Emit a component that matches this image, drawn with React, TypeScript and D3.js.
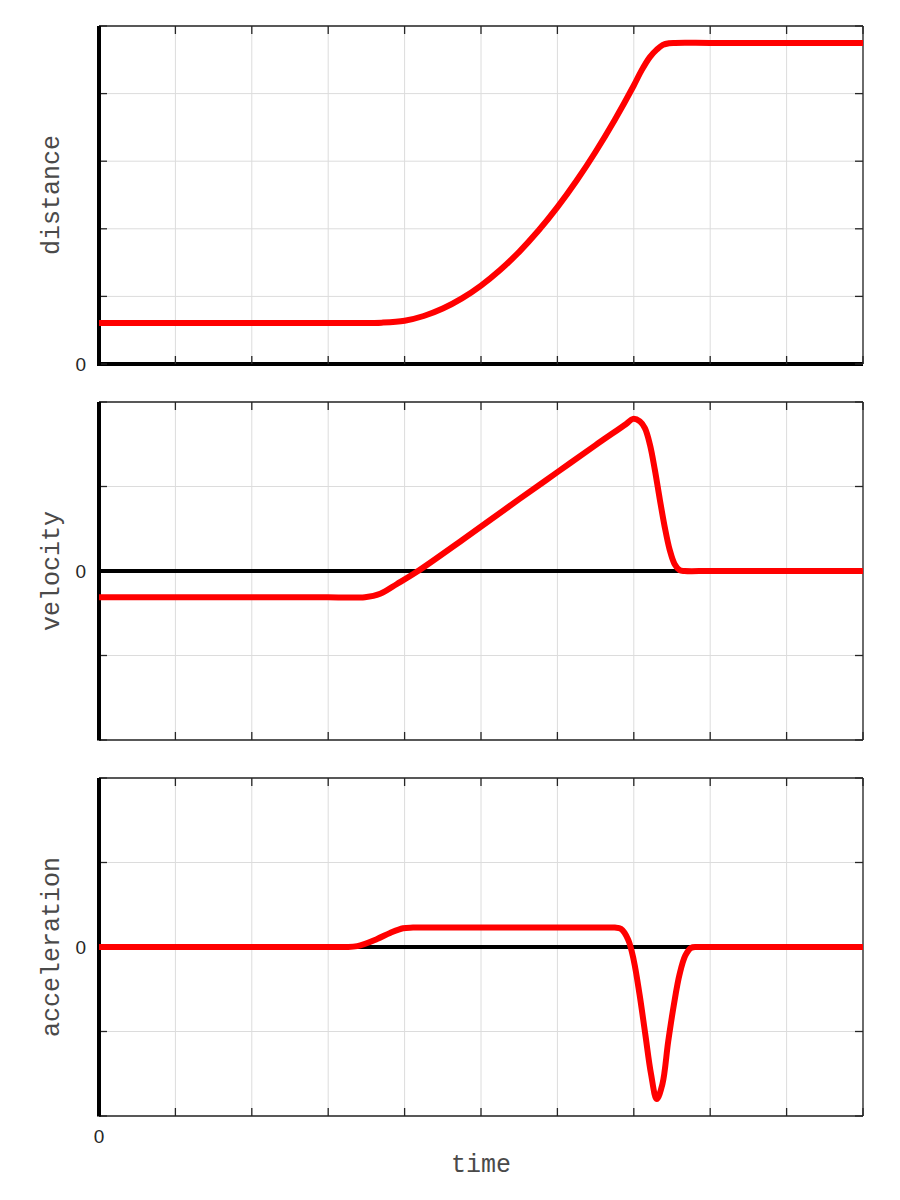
import React, { useLayoutEffect } from "react";
import * as d3 from "d3";

// ---- data (x in grid units 0..10) ----
const distanceX = [0, 1, 2, 3, 3.4, 3.7, 4.0, 4.25, 4.5, 4.75, 5.0, 5.25, 5.5, 5.75, 6.0, 6.25, 6.5, 6.75, 7.0, 7.1, 7.21, 7.3, 7.38, 7.46, 7.54, 8, 9, 10];
const distanceY = [0.607, 0.607, 0.607, 0.607, 0.607, 0.612, 0.64, 0.71, 0.82, 0.97, 1.16, 1.39, 1.66, 1.97, 2.32, 2.71, 3.14, 3.61, 4.12, 4.34, 4.54, 4.65, 4.72, 4.745, 4.75, 4.75, 4.75, 4.75];

const velocityX = [0, 1, 2, 3, 3.48, 3.68, 3.9, 4.16, 4.76, 5.5, 6.0, 6.5, 6.9, 6.99, 7.08, 7.145, 7.21, 7.275, 7.34, 7.405, 7.47, 7.535, 7.6, 7.665, 8, 9, 10];
const velocityY = [-0.31, -0.31, -0.31, -0.31, -0.31, -0.27, -0.154, -0.01, 0.37, 0.85, 1.17, 1.49, 1.74, 1.8, 1.77, 1.69, 1.5, 1.2, 0.85, 0.52, 0.25, 0.08, 0.01, 0, 0, 0, 0];

const accelX = [0, 1, 2, 3, 3.22, 3.38, 3.64, 3.81, 3.98, 4.11, 4.5, 5, 6, 6.5, 6.75, 6.83, 6.925, 7.0, 7.075, 7.15, 7.225, 7.3, 7.375, 7.45, 7.525, 7.6, 7.675, 7.75, 7.825, 8, 9, 10];
const accelY = [0, 0, 0, 0, 0, 0.01, 0.095, 0.166, 0.222, 0.23, 0.23, 0.23, 0.23, 0.23, 0.23, 0.215, 0.09, -0.16, -0.56, -1.03, -1.5, -1.8, -1.62, -1.12, -0.68, -0.32, -0.1, -0.01, 0, 0, 0, 0];

const xTicks = [0, 1, 2, 3, 4, 5, 6, 7, 8, 9, 10];
const panelLabels = ["distance", "velocity", "acceleration"];
const yDomains: [number, number][] = [[0, 5], [-2, 2], [-2, 2]];
const yTickSets = [[0, 1, 2, 3, 4, 5], [-2, -1, 0, 1, 2], [-2, -1, 0, 1, 2]];
const xLabel = "time";
const zeroLabel = "0";

const W = 900, H = 1200;
const left = 99, right = 863;
const panelTops = [26, 402, 778];
const panelH = 338;

const series = [
  distanceX.map((x, i) => [x, distanceY[i]] as [number, number]),
  velocityX.map((x, i) => [x, velocityY[i]] as [number, number]),
  accelX.map((x, i) => [x, accelY[i]] as [number, number]),
];

const mono = "'Liberation Mono', 'DejaVu Sans Mono', monospace";
const sans = "'Liberation Sans', Arial, sans-serif";

export default function App() {
  useLayoutEffect(() => {
    document.body.style.margin = "0";
  }, []);

  const x = d3.scaleLinear().domain([0, 10]).range([left, right]);

  return (
    <svg width={W} height={H} style={{ display: "block", background: "#fff" }}>
      {panelTops.map((top, p) => {
        const bottom = top + panelH;
        const y = d3.scaleLinear().domain(yDomains[p]).range([bottom, top]);
        const line = d3
          .line<[number, number]>()
          .x((d) => x(d[0]))
          .y((d) => y(d[1]))
          .curve(d3.curveCatmullRom.alpha(0.5));
        const hasZeroLine = yDomains[p][0] < 0;
        const mid = (top + bottom) / 2;
        return (
          <g key={p}>
            {/* grid */}
            {xTicks.map((t) => (
              <line key={"gx" + t} x1={x(t)} x2={x(t)} y1={top} y2={bottom} stroke="#dcdcdc" strokeWidth={1} />
            ))}
            {yTickSets[p].map((t) => (
              <line key={"gy" + t} x1={left} x2={right} y1={y(t)} y2={y(t)} stroke="#dcdcdc" strokeWidth={1} />
            ))}
            {/* frame */}
            <line x1={left} x2={right} y1={top} y2={top} stroke="#262626" strokeWidth={1.3} />
            <line x1={right} x2={right} y1={top} y2={bottom} stroke="#262626" strokeWidth={1.3} />
            <line x1={left} x2={right} y1={bottom} y2={bottom} stroke={p === 0 ? "#000" : "#262626"} strokeWidth={p === 0 ? 4 : 1.3} />
            {/* ticks */}
            {xTicks.map((t) => (
              <g key={"tx" + t}>
                <line x1={x(t)} x2={x(t)} y1={top} y2={top + 8} stroke="#262626" strokeWidth={1.3} />
                <line x1={x(t)} x2={x(t)} y1={bottom} y2={bottom - 8} stroke="#262626" strokeWidth={1.3} />
              </g>
            ))}
            {yTickSets[p].map((t) => (
              <g key={"ty" + t}>
                <line x1={left} x2={left + 8} y1={y(t)} y2={y(t)} stroke="#262626" strokeWidth={1.3} />
                <line x1={right} x2={right - 8} y1={y(t)} y2={y(t)} stroke="#262626" strokeWidth={1.3} />
              </g>
            ))}
            {/* zero line */}
            {hasZeroLine && (
              <line x1={left} x2={right} y1={y(0)} y2={y(0)} stroke="#000" strokeWidth={4} />
            )}
            {/* left thick axis */}
            <line x1={left} x2={left} y1={top} y2={bottom + (p === 0 ? 2 : 0.5)} stroke="#000" strokeWidth={4} />
            {/* data */}
            <path d={line(series[p]) || ""} fill="none" stroke="#ff0000" strokeWidth={6} strokeLinejoin="round" />
            {/* zero tick label */}
            <text x={86} y={y(0)} dy="0.35em" textAnchor="end" fontFamily={sans} fontSize={19} fill="#262626">
              {zeroLabel}
            </text>
            {/* panel label */}
            <text
              transform={`translate(59,${mid}) rotate(-90)`}
              textAnchor="middle"
              fontFamily={mono}
              fontSize={25}
              fill="#4a4a4a"
            >
              {panelLabels[p]}
            </text>
          </g>
        );
      })}
      <text x={x(0)} y={1136} dy="0.35em" textAnchor="middle" fontFamily={sans} fontSize={19} fill="#262626">
        {zeroLabel}
      </text>
      <text x={(left + right) / 2} y={1172} textAnchor="middle" fontFamily={mono} fontSize={25} fill="#4a4a4a">
        {xLabel}
      </text>
    </svg>
  );
}
